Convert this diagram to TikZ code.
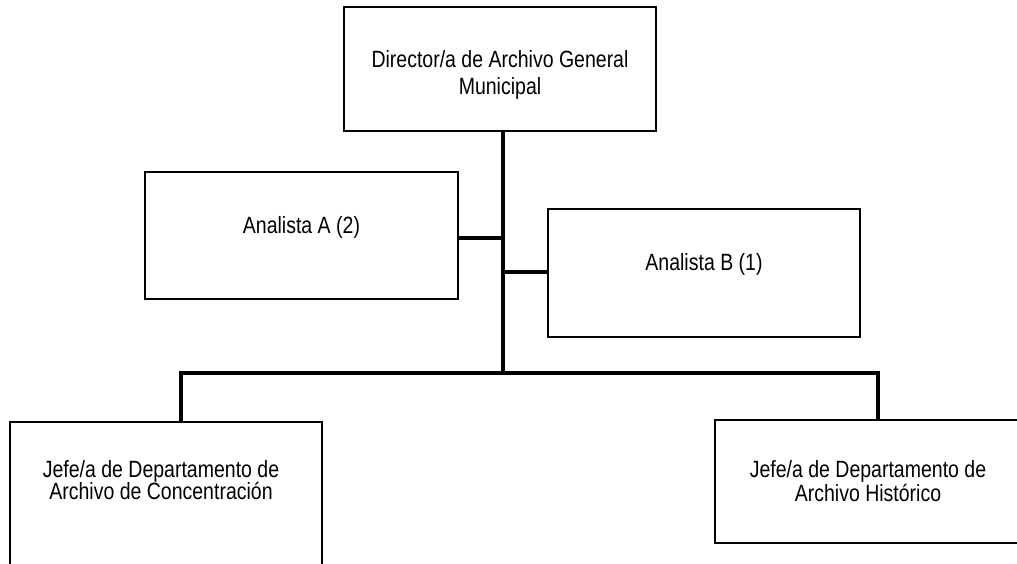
\documentclass[tikz,border=0pt]{standalone}
\usepackage{fontspec}
\setmainfont{Liberation Sans}[FakeStretch=0.83]
\newcommand\mytightls{\lineskiplimit=-100pt\relax}
\begin{document}
\begin{tikzpicture}[x=1pt,y=-1pt,
  box/.style={draw=black,line width=1.2pt,inner sep=0pt},
  lbl/.style={font={\fontsize{23.5}{27}\selectfont\mytightls},align=center,inner sep=0pt},
  lblb/.style={font={\fontsize{23.5}{22}\selectfont\mytightls},align=center,inner sep=0pt},
  lblc/.style={font={\fontsize{23.5}{24}\selectfont\mytightls},align=center,inner sep=0pt},
  conn/.style={draw=black,line width=4pt,line join=miter}]
\useasboundingbox (0,0) rectangle (1017,563);
\clip (0,0) rectangle (1017,563);
% boxes
\node[box,minimum width=312pt,minimum height=124pt] (dir) at (500,69) {};
\node[box,minimum width=313pt,minimum height=127pt] (anA) at (301.5,235.5) {};
\node[box,minimum width=312pt,minimum height=128pt] (anB) at (704,273) {};
\node[box,minimum width=312pt,minimum height=200pt] (jefeC) at (166,522) {};
\node[box,minimum width=306pt,minimum height=123pt] (jefeH) at (868,481.5) {};
% labels
\node[lbl] (tdir) at (500,75.4) {Director/a de Archivo General\\Municipal};
\node[lbl,anchor=base] (tanA) at (301.5,233) {Analista A (2)};
\node[lbl,anchor=base] (tanB) at (704,270) {Analista B (1)};
\node[lblb] (tjC) at (161,480.4) {Jefe/a de Departamento de\\Archivo de Concentración};
\node[lblc] (tjH) at (868,481.4) {Jefe/a de Departamento de\\Archivo Histórico};
% junctions
\coordinate (jA) at (503,238);
\coordinate (jB) at (503,272);
\coordinate (jBar) at (503,373);
\coordinate (barL) at (181,373);
\coordinate (barR) at (878,373);
% connectors
\draw[conn] (dir.south -| jA) -- (jBar);
\draw[conn] (anA.east |- jA) -- (jA);
\draw[conn] (jB) -- (anB.west |- jB);
\draw[conn] (jefeC.north -| barL) -- (barL) -- (barR) -- (jefeH.north -| barR);
\end{tikzpicture}
\end{document}
